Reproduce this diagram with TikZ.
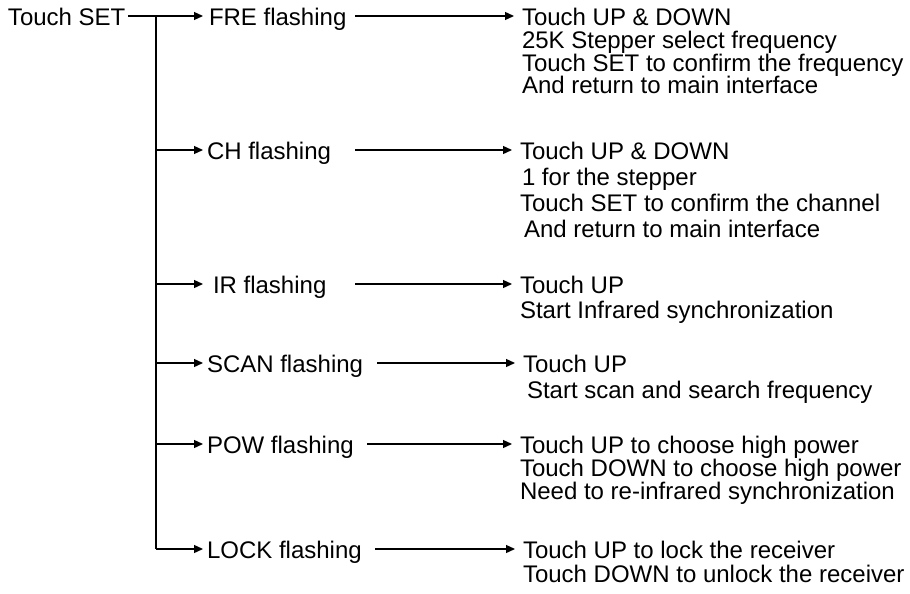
\documentclass[tikz,border=0pt]{standalone}
\usepackage{fontspec}
\setmainfont{Liberation Sans}
\usetikzlibrary{arrows.meta}
\newcommand{\firstln}{\rule{0pt}{20pt}}
\begin{document}
\begin{tikzpicture}[x=1pt,y=-1pt,
  conn/.style={line width=1.3pt},
  arr/.style={conn,-{Triangle[length=9pt,width=8pt]}},
  lbl/.style={inner sep=0pt,text height=19pt,text depth=0pt,anchor=west,
    font=\fontsize{24}{26}\selectfont,outer xsep=4pt},
  desc/.style={inner sep=0pt,anchor=north west,align=left,outer xsep=8pt}
]
\useasboundingbox (0,0) rectangle (910,594);
% root
\node[lbl,outer xsep=3pt] (ts) at (5,16) {Touch SET};
% labels
\node[lbl,outer xsep=6pt] (l1) at (203,16) {FRE flashing};
\node[lbl] (l2) at (203,150) {CH flashing};
\node[lbl,outer xsep=10pt] (l3) at (203,284) {IR flashing};
\node[lbl] (l4) at (203,363) {SCAN flashing};
\node[lbl] (l5) at (203,444) {POW flashing};
\node[lbl] (l6) at (203,549) {LOCK flashing};
% descriptions
\node[desc,font=\fontsize{24}{22.7}\selectfont] (d1) at (514,5.5)
 {\firstln Touch UP \& DOWN\\25K Stepper select frequency\\Touch SET to confirm the frequency\\And return to main interface};
\node[desc,font=\fontsize{24}{26}\selectfont] (d2) at (512,139.5)
 {\firstln Touch UP \& DOWN\\\hspace*{2pt}1 for the stepper\\Touch SET to confirm the channel\\\hspace*{4pt}And return to main interface};
\node[desc,font=\fontsize{24}{25}\selectfont] (d3) at (512,273.5)
 {\firstln Touch UP\\Start Infrared synchronization};
\node[desc,font=\fontsize{24}{26}\selectfont] (d4) at (515,352.5)
 {\firstln Touch UP\\\hspace*{4pt}Start scan and search frequency};
\node[desc,font=\fontsize{24}{23}\selectfont] (d5) at (512,433.5)
 {\firstln Touch UP to choose high power\\Touch DOWN to choose high power\\Need to re-infrared synchronization};
\node[desc,font=\fontsize{24}{24}\selectfont] (d6) at (515,538.5)
 {\firstln Touch UP to lock the receiver\\Touch DOWN to unlock the receiver};
% trunk
\coordinate (j) at (156,16);
\draw[arr] (ts.east) -- (l1.west);
\draw[conn] (j) -- (j |- l6.west);
\foreach \i in {2,...,6} \draw[arr] (j |- l\i.west) -- (l\i.west);
% middle connectors
\coordinate (m1) at (355,16);
\coordinate (m2) at (355,150);
\coordinate (m3) at (355,284);
\coordinate (m4) at (377,363);
\coordinate (m5) at (367,444);
\coordinate (m6) at (375,549);
\foreach \i in {1,...,6} \draw[arr] (m\i) -- (m\i -| d\i.west);
\end{tikzpicture}
\end{document}
